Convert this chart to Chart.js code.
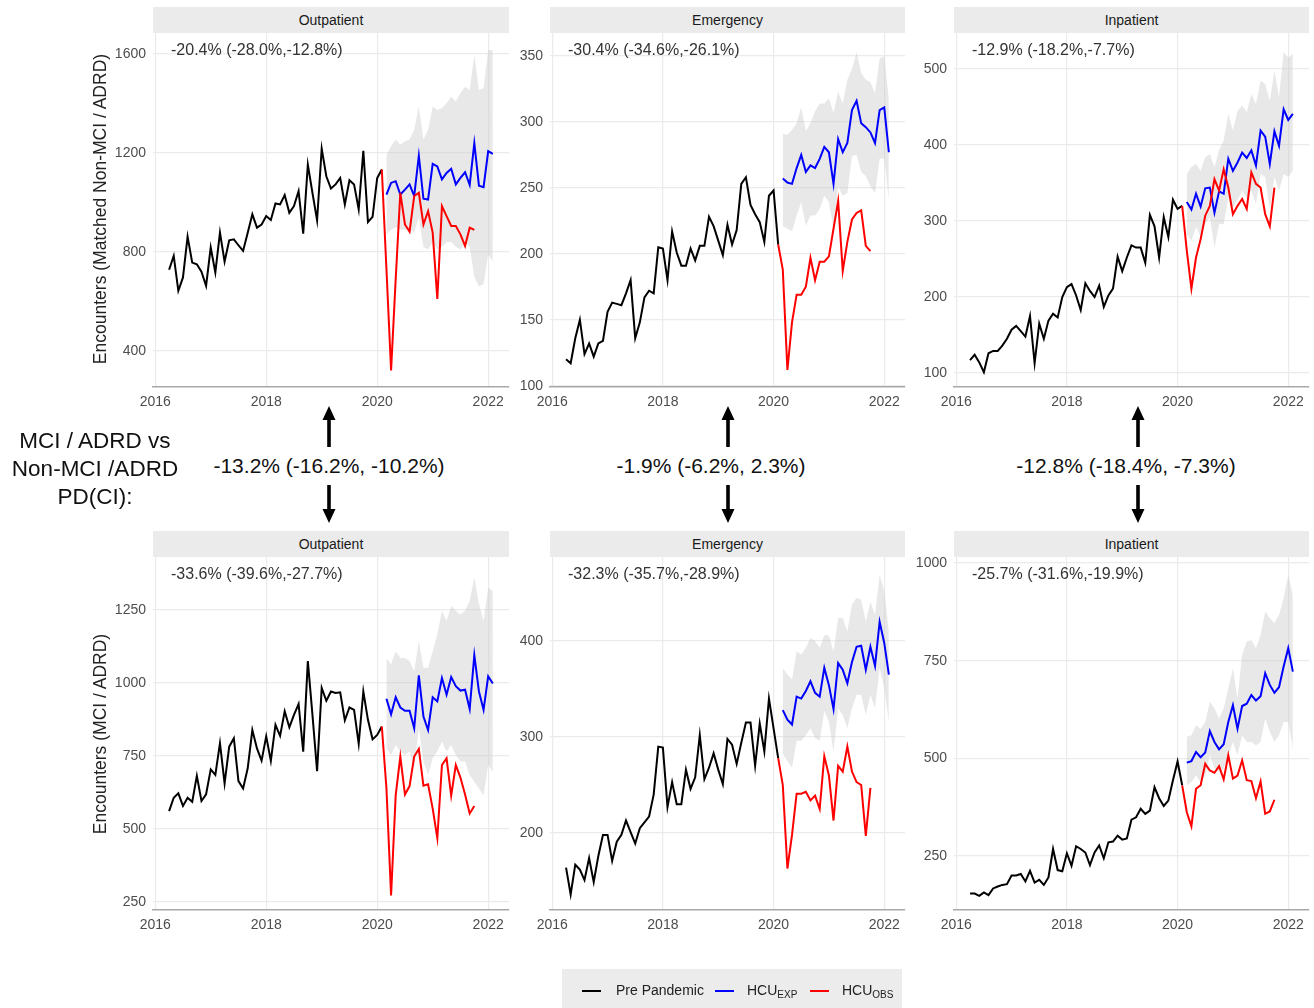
<!DOCTYPE html>
<html>
<head>
<meta charset="utf-8">
<script src="https://cdn.jsdelivr.net/npm/chart.js@4.4.1/dist/chart.umd.min.js"></script>
<style>
  body { margin: 0; background: #fff; width: 1314px; height: 1008px; position: relative; overflow: hidden;
         font-family: "Liberation Sans", Arial, sans-serif; }
  canvas { position: absolute; }
  .strip { position: absolute; background: #ebebeb; color: #1a1a1a; font-size: 14px; text-align: center; line-height: 26px; height: 26px; }
  .note { position: absolute; font-size: 16px; color: #333; line-height: 18px; white-space: nowrap; }
  .ytitle { position: absolute; font-size: 17.5px; color: #222; white-space: nowrap; transform: translate(-50%, -50%) rotate(-90deg); }
  .mid { position: absolute; font-size: 21px; color: #111; white-space: nowrap; transform: translate(-50%, -50%); }
  .rowlabel { position: absolute; left: 95px; top: 441px; transform: translate(-50%, -14px); font-size: 22.5px; line-height: 28px; text-align: center; color: #111; white-space: nowrap; }
  .legend { position: absolute; left: 562px; top: 969px; width: 340px; height: 45px; background: #ececec; font-size: 14px; color: #222; }
  .legend .sw { position: absolute; top: 21px; width: 19px; height: 2px; }
  .legend .lb { position: absolute; top: 13px; white-space: nowrap; }
  .legend sub { font-size: 10px; vertical-align: -3px; }
</style>
</head>
<body>
<script>
'use strict';

// Time axis: monthly points (start year, start month, count)
const X_TICKS = [2016, 2018, 2020, 2022];
const PRE_START = [2016, 4];   // Apr 2016 .. Feb 2020
const OBS_START = [2020, 2];   // Feb 2020 .. Oct 2021
const EXP_START = [2020, 3];   // Mar 2020 .. Feb 2022

// Outpatient, matched Non-MCI / ADRD
const outNonPre = [728,784,643,697,862,757,750,720,663,818,717,878,761,847,851,827,804,878,952,898,911,945,929,996,992,1030,958,985,1046,874,1153,1039,928,1217,1106,1056,1073,1099,992,1090,1073,972,1209,921,942,1099,1133];
const outNonObs = [1133,730,321,690,1039,911,882,1026,1039,911,965,878,610,985,945,905,905,871,824,898,889];
const outNonExp = [1032,1079,1086,1032,1052,1073,1026,1189,1015,1012,1156,1146,1093,1119,1136,1073,1099,1122,1071,1240,1068,1062,1207,1196];
const outNonHi  = [1193,1227,1254,1234,1247,1254,1294,1388,1254,1294,1388,1374,1381,1401,1428,1408,1442,1468,1455,1596,1455,1462,1616,1616];
const outNonLo  = [870,890,900,890,890,890,880,940,820,810,840,810,820,840,840,820,810,840,820,700,660,670,790,760];

// Emergency, matched Non-MCI / ADRD
const emNonPre = [120,117,136,150,124,132,122,132,134,156,163,162,161,170,180,136,148,167,172,170,205,204,180,217,201,191,191,204,195,206,206,228,221,210,199,222,207,218,253,258,237,230,224,209,244,248,207];
const emNonObs = [207,188,112,148,169,169,175,197,180,194,194,198,219,240,187,209,226,231,233,206,202];
const emNonExp = [257,254,253,265,275,262,267,265,272,281,277,253,287,277,284,309,316,299,296,292,284,309,311,277];
const emNonHi  = [291,290,294,299,311,293,299,308,314,314,318,307,323,314,332,340,353,337,332,330,322,348,350,317];
const emNonLo  = [221,219,217,229,239,221,229,229,234,244,239,219,251,244,246,274,275,262,259,251,246,272,272,241];

// Inpatient, matched Non-MCI / ADRD
const inNonPre = [117,124,114,101,126,129,129,136,145,157,162,155,148,175,113,165,145,169,178,173,200,213,217,202,183,218,208,200,215,187,202,211,253,234,252,268,265,265,245,308,293,252,305,279,328,316,320];
const inNonObs = [320,261,211,252,276,307,320,355,340,368,344,309,320,329,316,364,349,344,309,293,344];
const inNonExp = [325,315,336,319,343,344,311,339,336,382,366,377,390,383,393,373,419,411,375,418,399,447,433,441];
const inNonHi  = [362,371,375,366,384,388,371,393,406,441,419,445,452,443,467,454,485,480,458,498,463,522,515,520];
const inNonLo  = [283,274,292,279,296,305,265,296,296,331,318,327,340,331,340,322,362,358,314,358,340,362,358,366];

// Outpatient, MCI / ADRD
const outMciPre = [561,607,622,579,607,593,682,596,619,704,685,794,656,782,811,664,639,708,839,776,734,817,733,857,819,903,848,891,928,765,1075,891,698,983,939,971,966,968,872,916,908,792,971,874,807,822,851];
const outMciObs = [851,639,272,616,748,618,647,748,774,648,653,570,469,719,742,614,719,676,618,553,579];
const outMciExp = [946,893,951,916,905,905,845,1026,885,839,951,937,1017,960,1020,989,974,977,911,1095,971,908,1023,998];
const outMciHi  = [1086,1063,1109,1086,1086,1075,1040,1143,1052,1052,1109,1166,1247,1212,1264,1247,1235,1247,1281,1361,1270,1212,1327,1315];
const outMciLo  = [776,753,788,765,753,765,708,845,731,685,742,765,799,765,788,753,731,731,685,662,639,616,719,696];

// Emergency, MCI / ADRD
const emMciPre = [164,136,167,162,151,174,149,176,198,198,171,191,198,213,201,189,205,211,217,240,290,289,227,253,230,230,266,246,258,302,256,268,283,266,251,298,292,272,294,315,315,270,314,285,340,309,278];
const emMciObs = [278,250,163,198,241,241,243,234,239,225,280,260,213,270,264,290,264,253,250,197,247];
const emMciExp = [328,318,313,342,340,348,358,346,342,372,354,329,377,370,356,378,394,395,370,394,374,420,398,365];
const emMciHi  = [372,365,360,389,386,393,403,400,393,406,406,389,424,424,410,438,445,443,420,441,427,469,452,410];
const emMciLo  = [282,275,268,296,296,302,309,299,296,327,316,285,330,323,309,330,344,344,323,344,330,372,351,316];

// Inpatient, MCI / ADRD
const inMciPre = [154,154,148,157,150,167,172,176,178,200,200,204,185,212,182,189,176,195,268,214,211,257,225,275,268,259,227,259,277,244,285,287,302,292,295,343,349,371,358,366,426,398,378,392,444,492,431];
const inMciObs = [431,362,326,422,431,486,469,463,480,446,508,448,456,495,444,442,398,441,358,364,394];
const inMciExp = [489,493,516,503,515,570,542,523,536,593,636,576,634,640,662,648,659,718,688,668,682,735,782,722];
const inMciHi  = [555,559,585,576,593,645,628,602,628,679,730,653,765,799,803,782,816,876,859,846,867,910,970,919];
const inMciLo  = [431,439,456,439,456,508,474,465,474,508,542,508,559,542,542,533,542,602,568,542,559,593,593,525];

// Panel titles and text
const stripTitles = ['Outpatient', 'Emergency', 'Inpatient'];
const panelNotes = [
    '-20.4% (-28.0%,-12.8%)', '-30.4% (-34.6%,-26.1%)', '-12.9% (-18.2%,-7.7%)',
    '-33.6% (-39.6%,-27.7%)', '-32.3% (-35.7%,-28.9%)', '-25.7% (-31.6%,-19.9%)'
];
const pdLabels = ['-13.2% (-16.2%, -10.2%)', '-1.9% (-6.2%, 2.3%)', '-12.8% (-18.4%, -7.3%)'];

const COLORS = { pre: '#000000', exp: '#0000ff', obs: '#ff0000', band: 'rgba(200,200,200,0.42)' };
const X_MIN = 2015.96, X_MAX = 2022.375;
const Y_AXIS_W = 48, X_AXIS_H = 24, PAD_T = 20, PAD_R = 6;

function toYear(start, i) {
    const m = start[1] - 1 + i;
    return start[0] + Math.floor(m / 12) + (m % 12) / 12;
}
function points(start, values) {
    return values.map((v, i) => ({ x: toYear(start, i), y: v }));
}

// Layout of the six panels (plot-area pixel boxes)
const cols = [{ left: 153, right: 509 }, { left: 550, right: 905 }, { left: 954, right: 1309 }];
const rows = [{ top: 33, bottom: 387 }, { top: 557, bottom: 910 }];

const panels = [
    { col: 0, row: 0, yMin: 254, yMax: 1685, yTicks: [400, 800, 1200, 1600],
      pre: outNonPre, obs: outNonObs, exp: outNonExp, hi: outNonHi, lo: outNonLo },
    { col: 1, row: 0, yMin: 99, yMax: 367.4, yTicks: [100, 150, 200, 250, 300, 350],
      pre: emNonPre, obs: emNonObs, exp: emNonExp, hi: emNonHi, lo: emNonLo },
    { col: 2, row: 0, yMin: 81.6, yMax: 547.4, yTicks: [100, 200, 300, 400, 500],
      pre: inNonPre, obs: inNonObs, exp: inNonExp, hi: inNonHi, lo: inNonLo },
    { col: 0, row: 1, yMin: 222.6, yMax: 1431.5, yTicks: [250, 500, 750, 1000, 1250],
      pre: outMciPre, obs: outMciObs, exp: outMciExp, hi: outMciHi, lo: outMciLo },
    { col: 1, row: 1, yMin: 119.8, yMax: 487.5, yTicks: [200, 300, 400],
      pre: emMciPre, obs: emMciObs, exp: emMciExp, hi: emMciHi, lo: emMciLo },
    { col: 2, row: 1, yMin: 111.8, yMax: 1015.4, yTicks: [250, 500, 750, 1000],
      pre: inMciPre, obs: inMciObs, exp: inMciExp, hi: inMciHi, lo: inMciLo }
];

function addDiv(cls, text, style) {
    const d = document.createElement('div');
    d.className = cls;
    d.textContent = text;
    Object.assign(d.style, style);
    document.body.appendChild(d);
    return d;
}

const tickFont = { family: '"Liberation Sans", Arial, sans-serif', size: 14 };

// lower order is drawn on top
function lineSet(data, color, order) {
    return { data, order, borderColor: color, borderWidth: 2, pointRadius: 0, tension: 0, fill: false };
}

panels.forEach((p, k) => {
    const c = cols[p.col], r = rows[p.row];
    const w = Y_AXIS_W + (c.right - c.left) + PAD_R;
    const h = PAD_T + (r.bottom - r.top) + X_AXIS_H;
    const cv = document.createElement('canvas');
    cv.width = w; cv.height = h;
    cv.style.left = (c.left - Y_AXIS_W) + 'px';
    cv.style.top = (r.top - PAD_T) + 'px';
    cv.style.width = w + 'px';
    cv.style.height = h + 'px';
    document.body.appendChild(cv);

    new Chart(cv, {
        type: 'line',
        data: {
            datasets: [
                { data: points(EXP_START, p.hi), order: 4, borderWidth: 0, pointRadius: 0, fill: '+1', backgroundColor: COLORS.band },
                { data: points(EXP_START, p.lo), order: 5, borderWidth: 0, pointRadius: 0, fill: false },
                lineSet(points(PRE_START, p.pre), COLORS.pre, 2),
                lineSet(points(EXP_START, p.exp), COLORS.exp, 1),
                lineSet(points(OBS_START, p.obs), COLORS.obs, 0)
            ]
        },
        options: {
            responsive: false,
            animation: false,
            devicePixelRatio: 1,
            layout: { padding: { top: PAD_T, right: PAD_R, left: 0, bottom: 0 } },
            plugins: {
                legend: { display: false },
                tooltip: { enabled: false },
                filler: { drawTime: 'beforeDatasetsDraw' }
            },
            scales: {
                x: {
                    type: 'linear', min: X_MIN, max: X_MAX,
                    afterBuildTicks: s => { s.ticks = X_TICKS.map(v => ({ value: v })); },
                    afterFit: s => { s.height = X_AXIS_H; },
                    ticks: { color: '#4d4d4d', font: tickFont, padding: 7, autoSkip: false, maxRotation: 0,
                             callback: v => String(v) },
                    grid: { color: '#ebebeb', lineWidth: 1.2, drawTicks: false },
                    border: { display: true, color: '#a8a8a8', width: 1.5 }
                },
                y: {
                    type: 'linear', min: p.yMin, max: p.yMax,
                    afterBuildTicks: s => { s.ticks = p.yTicks.map(v => ({ value: v })); },
                    afterFit: s => { s.width = Y_AXIS_W; },
                    ticks: { color: '#4d4d4d', font: tickFont, padding: 7, autoSkip: false,
                             callback: v => String(v) },
                    grid: { color: '#ebebeb', lineWidth: 1.2, drawTicks: false },
                    border: { display: false }
                }
            }
        }
    });

    // facet strip and in-panel estimate
    addDiv('strip', stripTitles[p.col], {
        left: c.left + 'px', top: (r.top - 26) + 'px', width: (c.right - c.left) + 'px'
    });
    addDiv('note', panelNotes[k], { left: (c.left + 18) + 'px', top: (r.top + 8) + 'px' });
});

// y-axis titles
addDiv('ytitle', 'Encounters (Matched Non-MCI / ADRD)', { left: '100px', top: '209px' });
addDiv('ytitle', 'Encounters (MCI / ADRD)', { left: '100px', top: '734px' });

// middle row: PD(CI) comparison
const rl = addDiv('rowlabel', '', {});
rl.innerHTML = 'MCI / ADRD vs<br>Non-MCI /ADRD<br>PD(CI):';
const arrowX = [329, 728, 1138];
const midX = [329, 711, 1126];
pdLabels.forEach((t, i) => addDiv('mid', t, { left: midX[i] + 'px', top: '466px' }));

const svgNS = 'http://www.w3.org/2000/svg';
const svg = document.createElementNS(svgNS, 'svg');
svg.setAttribute('width', 1314);
svg.setAttribute('height', 1008);
svg.style.cssText = 'position:absolute;left:0;top:0;pointer-events:none';
arrowX.forEach(x => {
    const up = document.createElementNS(svgNS, 'polygon');
    up.setAttribute('points', `${x},406 ${x + 6.5},420 ${x + 1.8},420 ${x + 1.8},447 ${x - 1.8},447 ${x - 1.8},420 ${x - 6.5},420`);
    const dn = document.createElementNS(svgNS, 'polygon');
    dn.setAttribute('points', `${x},523 ${x + 6.5},509 ${x + 1.8},509 ${x + 1.8},485 ${x - 1.8},485 ${x - 1.8},509 ${x - 6.5},509`);
    up.setAttribute('fill', '#000');
    dn.setAttribute('fill', '#000');
    svg.appendChild(up);
    svg.appendChild(dn);
});
document.body.appendChild(svg);

// legend
const legend = document.createElement('div');
legend.className = 'legend';
legend.innerHTML =
    '<div class="sw" style="left:20px;background:#000"></div><div class="lb" style="left:54px">Pre Pandemic</div>' +
    '<div class="sw" style="left:153px;background:#00f"></div><div class="lb" style="left:185px">HCU<sub>EXP</sub></div>' +
    '<div class="sw" style="left:248px;background:#f00"></div><div class="lb" style="left:280px">HCU<sub>OBS</sub></div>';
document.body.appendChild(legend);
</script>
</body>
</html>
